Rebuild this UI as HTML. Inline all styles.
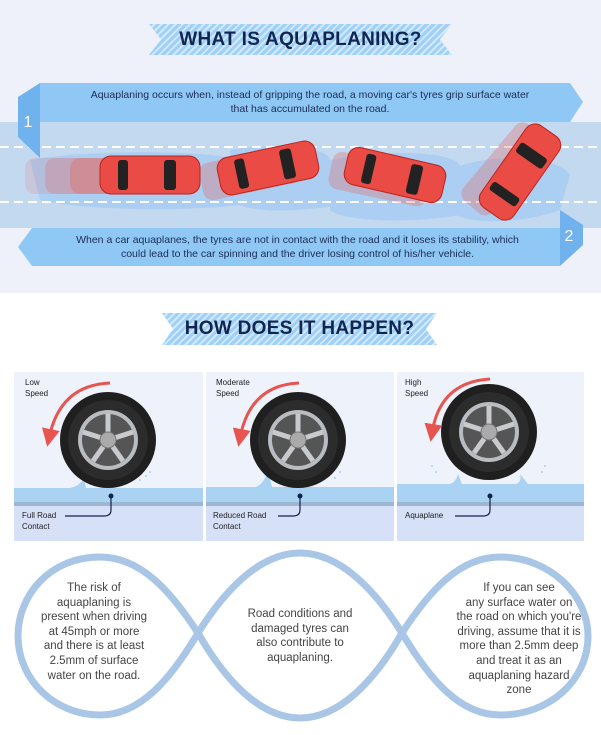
<!DOCTYPE html>
<html><head><meta charset="utf-8">
<style>
*{margin:0;padding:0;box-sizing:border-box}
body{width:601px;height:735px;background:#fff;position:relative;overflow:hidden;font-family:"Liberation Sans",sans-serif}
.abs{position:absolute}
.hatch{background:repeating-linear-gradient(135deg,#9fd0f7 0 3px,#d3e9fb 3px 5px);clip-path:polygon(0 0,100% 0,96% 50%,100% 100%,0 100%,4% 50%)}
.title{font-weight:bold;color:#10254f;font-size:19px;text-align:center;letter-spacing:0.3px}
.bt{color:#1d2d55;font-size:10.5px;text-align:center;line-height:14px}
.pl{font-size:8px;color:#222;line-height:11px}
.bx{font-size:11.5px;color:#444;text-align:center;line-height:14.6px}
</style></head><body>
<div class="abs" style="left:0;top:0;width:601px;height:293px;background:#eef1f9"></div>
<div class="abs hatch" style="left:149px;top:24px;width:303px;height:31px"></div>
<div class="abs title" style="left:149px;top:29px;width:303px">WHAT IS AQUAPLANING?</div>

<div class="abs" style="left:0;top:122px;width:601px;height:106px;background:#c3d9f0"></div>
<svg class="abs" style="left:0;top:0" width="601" height="293">
 <g fill="#a9cdf3" opacity="0.9">
  <path d="M30,160 C80,150 200,150 230,158 L240,205 C180,212 80,210 40,200Z"/>
  <path d="M230,150 C290,140 330,150 330,160 L340,205 C280,215 240,210 230,200Z"/>
  <path d="M330,160 C380,150 450,150 460,165 L460,215 C400,225 340,220 330,210Z"/>
  <path d="M440,175 C480,150 560,155 570,175 L560,210 C520,225 460,225 450,210Z"/>
 </g>
 <line x1="0" y1="147" x2="601" y2="147" stroke="#fff" stroke-width="2" stroke-dasharray="9,5"/>
 <line x1="0" y1="202" x2="601" y2="202" stroke="#fff" stroke-width="2" stroke-dasharray="9,5"/>
 <g fill="#e8615a">
  <rect x="25" y="158" width="100" height="36" rx="10" opacity="0.15"/>
  <rect x="45" y="158" width="100" height="36" rx="10" opacity="0.25"/>
  <rect x="70" y="158" width="100" height="36" rx="10" opacity="0.35"/>
  <g transform="rotate(-12 250 172)"><rect x="200" y="154" width="100" height="38" rx="10" opacity="0.3"/></g>
  <g transform="rotate(12 370 176)"><rect x="330" y="158" width="100" height="38" rx="10" opacity="0.3"/></g>
  <g transform="rotate(-50 500 172)"><rect x="455" y="154" width="100" height="38" rx="10" opacity="0.3"/></g>
 </g>
 <g transform="translate(150,175)"><rect x="-50" y="-19" width="100" height="38" rx="11" fill="#ea4b44" stroke="#b8241f"/><rect x="-32" y="-15" width="10" height="30" rx="3" fill="#222"/><rect x="14" y="-15" width="12" height="30" rx="3" fill="#222"/></g>
 <g transform="translate(268,168) rotate(-12)"><rect x="-50" y="-19" width="100" height="38" rx="11" fill="#ea4b44" stroke="#b8241f"/><rect x="-32" y="-15" width="10" height="30" rx="3" fill="#222"/><rect x="14" y="-15" width="12" height="30" rx="3" fill="#222"/></g>
 <g transform="translate(395,175) rotate(13)"><rect x="-50" y="-19" width="100" height="38" rx="11" fill="#ea4b44" stroke="#b8241f"/><rect x="-32" y="-15" width="10" height="30" rx="3" fill="#222"/><rect x="14" y="-15" width="12" height="30" rx="3" fill="#222"/></g>
 <g transform="translate(520,172) rotate(-55)"><rect x="-50" y="-20" width="100" height="40" rx="11" fill="#ea4b44" stroke="#b8241f"/><rect x="-32" y="-16" width="10" height="32" rx="3" fill="#222"/><rect x="14" y="-16" width="12" height="32" rx="3" fill="#222"/></g>
 <polygon points="40,83 570,83 583,102 570,122 40,122" fill="#8fc7f5"/>
 <polygon points="18,97 40,83 40,158 18,137" fill="#6fb2ee"/>
 <text x="28" y="127" font-family="Liberation Sans" font-size="16" fill="#fff" text-anchor="middle">1</text>
 <polygon points="32,228 560,228 560,266 32,266 18,247" fill="#8fc7f5"/>
 <polygon points="560,210 583,225 583,245 560,266" fill="#6fb2ee"/>
 <text x="569" y="241" font-family="Liberation Sans" font-size="16" fill="#fff" text-anchor="middle">2</text>
</svg>
<div class="abs bt" style="left:50px;top:88px;width:520px">Aquaplaning occurs when, instead of gripping the road, a moving car's tyres grip surface water<br>that has accumulated on the road.</div>
<div class="abs bt" style="left:30px;top:233px;width:535px">When a car aquaplanes, the tyres are not in contact with the road and it loses its stability, which<br>could lead to the car spinning and the driver losing control of his/her vehicle.</div>

<div class="abs hatch" style="left:162px;top:313px;width:275px;height:32px"></div>
<div class="abs title" style="left:162px;top:318px;width:275px">HOW DOES IT HAPPEN?</div>

<svg class="abs" style="left:0;top:0" width="601" height="735">
 <defs>
  <g id="tire">
   <circle r="48" fill="#1f1f1f"/><circle r="40" fill="#2c2c2c"/>
   <circle r="30" fill="#b9bcc0"/><circle r="26" fill="#555"/>
   <g stroke="#c8cacd" stroke-width="5">
    <line x1="0" y1="0" x2="0" y2="-26"/><line x1="0" y1="0" x2="25" y2="-8"/><line x1="0" y1="0" x2="15" y2="21"/><line x1="0" y1="0" x2="-15" y2="21"/><line x1="0" y1="0" x2="-25" y2="-8"/>
   </g>
   <circle r="8" fill="#aaa" stroke="#777"/>
  </g>
  <marker id="ah" markerWidth="6" markerHeight="6" refX="3" refY="3" orient="auto"><path d="M0,0 L6,3 L0,6Z" fill="#e85450"/></marker>
 </defs>
 <g>
  <rect x="14" y="372" width="189" height="169" fill="#eef2fb"/>
  <rect x="206" y="372" width="188" height="169" fill="#eef2fb"/>
  <rect x="397" y="372" width="187" height="169" fill="#eef2fb"/>
  <rect x="14" y="488" width="189" height="14" fill="#a9d2f3"/>
  <rect x="206" y="487" width="188" height="15" fill="#a9d2f3"/>
  <rect x="397" y="484" width="187" height="18" fill="#a9d2f3"/>
  <rect x="14" y="502" width="570" height="4" fill="#9db7d2"/>
  <rect x="14" y="506" width="189" height="35" fill="#d6e0f6"/>
  <rect x="206" y="506" width="188" height="35" fill="#d6e0f6"/>
  <rect x="397" y="506" width="187" height="35" fill="#d6e0f6"/>
  <rect x="203" y="372" width="3" height="169" fill="#fff"/><rect x="394" y="372" width="3" height="169" fill="#fff"/>
  <path d="M70,488 Q80,486 84,478 L86,488Z M256,487 Q264,484 268,470 L272,487Z M450,484 Q456,482 458,474 L462,484Z M516,484 Q522,482 520,474 L528,484Z" fill="#a9d2f3"/>
  <g fill="#a9d2f3"><circle cx="140" cy="480" r="1"/><circle cx="146" cy="476" r="1"/><circle cx="150" cy="472" r="1"/><circle cx="335" cy="478" r="1"/><circle cx="340" cy="472" r="1"/><circle cx="432" cy="466" r="1"/><circle cx="436" cy="472" r="1"/><circle cx="545" cy="466" r="1"/><circle cx="542" cy="472" r="1"/></g>
 </g>
 <use href="#tire" x="108" y="440"/>
 <use href="#tire" x="298" y="440"/>
 <use href="#tire" x="489" y="432"/>
 <g fill="none" stroke="#e85450" stroke-width="3" marker-end="url(#ah)">
  <path d="M110,383 Q60,385 49,438"/>
  <path d="M299,383 Q250,385 240,438"/>
  <path d="M490,379 Q440,382 432,433"/>
 </g>
 <g fill="none" stroke="#14224a" stroke-width="1.2">
  <path d="M111,496 L111,510 Q111,516 104,516 L65,516"/>
  <path d="M300,496 L300,510 Q300,516 293,516 L278,516"/>
  <path d="M490,496 L490,510 Q490,516 483,516 L455,516"/>
 </g>
 <g fill="#14224a"><circle cx="111" cy="496" r="2.5"/><circle cx="300" cy="496" r="2.5"/><circle cx="490" cy="496" r="2.5"/></g>
 <path d="M198,633 C170,590 140,557 100,557 C50,557 18,595 18,636 C18,680 55,715 100,715 C140,715 170,680 198,633 C225,590 260,553 300,553 C340,553 375,590 402,633 C430,680 460,715 500,715 C550,715 588,680 588,636 C588,595 550,557 500,557 C460,557 430,590 402,633 C375,680 340,718 300,718 C260,718 225,680 198,633 Z" fill="none" stroke="#a9c6e6" stroke-width="7"/>
</svg>
<div class="abs pl" style="left:25px;top:377px">Low<br>Speed</div>
<div class="abs pl" style="left:216px;top:377px">Moderate<br>Speed</div>
<div class="abs pl" style="left:405px;top:377px">High<br>Speed</div>
<div class="abs pl" style="left:22px;top:510px">Full Road<br>Contact</div>
<div class="abs pl" style="left:213px;top:510px">Reduced Road<br>Contact</div>
<div class="abs pl" style="left:405px;top:510px">Aquaplane</div>

<div class="abs bx" style="left:34px;top:581px;width:120px">The risk of<br>aquaplaning is<br>present when driving<br>at 45mph or more<br>and there is at least<br>2.5mm of surface<br>water on the road.</div>
<div class="abs bx" style="left:235px;top:607px;width:130px">Road conditions and<br>damaged tyres can<br>also contribute to<br>aquaplaning.</div>
<div class="abs bx" style="left:444px;top:581px;width:150px">If you can see<br>any surface water on<br>the road on which you're<br>driving, assume that it is<br>more than 2.5mm deep<br>and treat it as an<br>aquaplaning hazard<br>zone</div>
</body></html>
